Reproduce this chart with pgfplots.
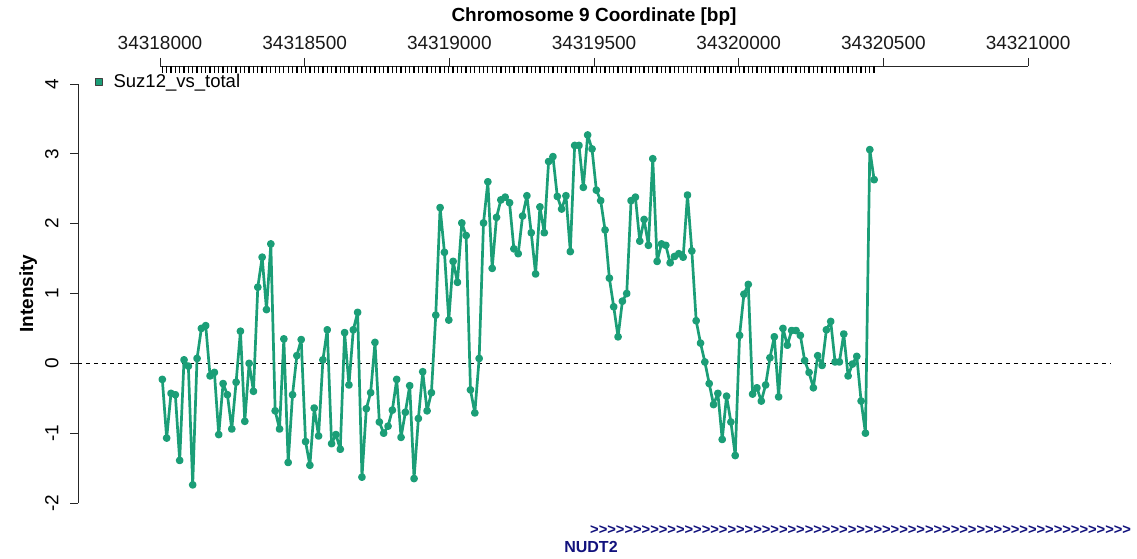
\documentclass[border=0pt]{standalone}
\usepackage{pgfplots}
\pgfplotsset{compat=1.18}
\usepackage{pgfplotstable}
\usepackage{fontspec}
\setmainfont{Liberation Sans}
\newfontfamily\genefont{Liberation Sans}
\definecolor{dtwo}{RGB}{27,158,119}
\definecolor{genenavy}{RGB}{18,18,125}
\pgfplotstableread{
x y
8 -0.23
23 -1.07
38 -0.43
53 -0.45
68 -1.39
83 0.05
98 -0.04
113 -1.74
128 0.07
143 0.50
158 0.54
173 -0.18
188 -0.13
203 -1.02
218 -0.29
233 -0.45
248 -0.94
263 -0.27
278 0.46
293 -0.83
308 0.00
323 -0.40
338 1.09
353 1.52
368 0.77
383 1.71
398 -0.68
413 -0.94
428 0.35
443 -1.42
458 -0.45
473 0.11
488 0.34
503 -1.12
518 -1.46
533 -0.64
548 -1.04
563 0.05
578 0.48
593 -1.15
608 -1.02
623 -1.23
638 0.44
653 -0.31
668 0.48
683 0.73
698 -1.63
713 -0.65
728 -0.42
743 0.30
758 -0.84
773 -1.00
788 -0.90
803 -0.67
818 -0.23
833 -1.06
848 -0.70
863 -0.32
878 -1.65
893 -0.79
908 -0.12
923 -0.68
938 -0.42
953 0.69
968 2.23
983 1.59
998 0.62
1013 1.46
1028 1.16
1043 2.01
1058 1.83
1073 -0.38
1088 -0.71
1103 0.07
1118 2.01
1133 2.60
1148 1.36
1163 2.09
1178 2.34
1193 2.38
1208 2.30
1223 1.64
1238 1.57
1253 2.11
1268 2.40
1283 1.87
1298 1.28
1313 2.24
1328 1.87
1343 2.89
1358 2.96
1373 2.39
1388 2.21
1403 2.40
1418 1.60
1433 3.12
1448 3.12
1463 2.52
1478 3.27
1493 3.07
1508 2.48
1523 2.33
1538 1.91
1553 1.22
1568 0.81
1583 0.38
1598 0.89
1613 1.00
1628 2.33
1643 2.38
1658 1.75
1673 2.06
1688 1.69
1703 2.93
1718 1.46
1733 1.71
1748 1.69
1763 1.44
1778 1.53
1793 1.57
1808 1.52
1823 2.41
1838 1.61
1853 0.61
1868 0.29
1883 0.02
1898 -0.29
1913 -0.59
1928 -0.43
1943 -1.09
1958 -0.47
1973 -0.84
1988 -1.32
2003 0.40
2018 0.99
2033 1.13
2048 -0.44
2063 -0.35
2078 -0.54
2093 -0.31
2108 0.08
2123 0.38
2138 -0.48
2153 0.50
2168 0.26
2183 0.47
2198 0.47
2213 0.40
2228 0.04
2243 -0.13
2258 -0.35
2273 0.11
2288 -0.03
2303 0.48
2318 0.60
2333 0.02
2348 0.02
2363 0.42
2378 -0.18
2393 -0.01
2408 0.10
2423 -0.54
2438 -1.00
2453 3.06
2468 2.63
}\probes

\begin{document}
\begin{tikzpicture}
\useasboundingbox (0,0) rectangle (1137pt,558pt);
% main data axis
\begin{axis}[
  at={(78pt,55pt)}, anchor=south west,
  scale only axis, width=1032pt, height=419pt,
  xmin=-283.4, xmax=3283.4, ymin=-2, ymax=4,
  axis x line=none, axis y line*=left,
  axis line style={-, line width=0.8pt, black!85},
  ytick={-2,-1,0,1,2,3,4},
  yticklabels={-2,-1,0,1,2,3,4},
  tick align=outside, major tick length=8pt,
  ytick style={line width=0.8pt, black!85},
  yticklabel style={rotate=90, anchor=south, font=\fontsize{19}{22}\selectfont},
  yticklabel shift=8pt,
  clip=false,
  legend image code/.code={\draw[fill=dtwo, draw=black!75, line width=0.6pt] (0pt,-3.5pt) rectangle (7pt,3.5pt);},
  legend style={draw=none, fill=none, inner sep=0pt, outer sep=0pt,
    at={(axis description cs:0.0165,1.006)}, anchor=west,
    font=\fontsize{18.5}{21}\selectfont,
    nodes={inner sep=0pt},
    /tikz/every odd column/.append style={column sep=11pt}},
]
\addplot[black, line width=0.9pt, dash pattern=on 4pt off 4pt, forget plot]
  coordinates {(-283.4,0) (3283.4,0)};
\addplot[dtwo, line width=2.7pt, line join=round, mark=*, mark size=2.5pt, mark options={solid, fill=dtwo}]
  table[x=x, y=y] {\probes};
\addlegendentry{Suz12\_vs\_total}
\end{axis}
% top coordinate axis with probe rug
\begin{axis}[
  at={(78pt,55pt)}, anchor=south west,
  scale only axis, width=1032pt, height=437pt,
  xmin=-283.4, xmax=3283.4, ymin=0, ymax=1,
  axis x line*=top, axis y line=none,
  x axis line style={draw=none},
  xtick={0,500,1000,1500,2000,2500,3000},
  xticklabels={34318000,34318500,34319000,34319500,34320000,34320500,34321000},
  tick align=outside, major tick length=8pt,
  xtick style={line width=0.8pt, black!85},
  xticklabel style={font=\fontsize{19}{22}\selectfont, text=black!90},
  xticklabel shift=5pt,
  clip=false,
]
\addplot[black!85, line width=0.8pt] coordinates {(0,1) (3000,1)};
\addplot[only marks, mark=|, mark size=3.5pt, mark options={black, line width=1.3pt}]
  table[x=x, y expr=0.99200] {\probes};
\end{axis}
\node[anchor=base, font=\bfseries\fontsize{19}{22}\selectfont] at (594pt,536pt) {Chromosome 9 Coordinate [bp]};
\node[rotate=90, anchor=base, font=\bfseries\fontsize{19}{22}\selectfont] at (33pt,264.5pt) {Intensity};
\node[anchor=west, inner sep=0pt, text=genenavy, font=\genefont\bfseries\fontsize{14.7}{16}\selectfont] at (590pt,28pt)
  {>>>>>>>>>>>>>>>>>>>>>>>>>>>>>>>>>>>>>>>>>>>>>>>>>>>>>>>>>>>>>>>};
\node[anchor=base, text=genenavy, font=\bfseries\fontsize{16}{18}\selectfont] at (591pt,6pt) {NUDT2};
\end{tikzpicture}
\end{document}
